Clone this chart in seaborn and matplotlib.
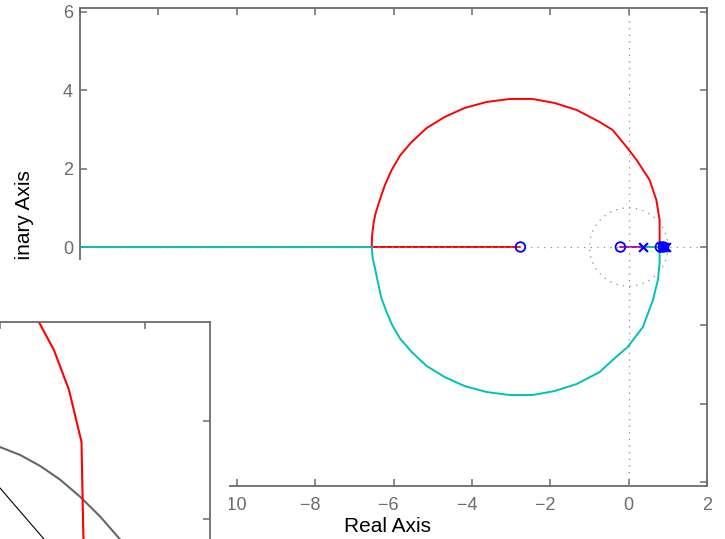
import numpy as np
import pandas as pd
import seaborn as sns
import matplotlib
matplotlib.use("Agg")
import matplotlib.pyplot as plt
from matplotlib.patches import Rectangle
from matplotlib.ticker import FuncFormatter

# ---- root locus: complex branches (real part, imaginary part) ----
upper_re = [-6.556, -6.545, -6.510, -6.460, -6.350, -6.220, -6.050, -5.830, -5.536,
            -5.153, -4.694, -4.184, -3.622, -3.036, -2.449, -1.888, -1.327, -0.740,
            -0.408, -0.051, 0.204, 0.536, 0.707, 0.791, 0.791, 0.791]
upper_im = [0.000, 0.300, 0.600, 0.850, 1.200, 1.580, 1.960, 2.340, 2.681,
            3.038, 3.319, 3.549, 3.702, 3.778, 3.778, 3.676, 3.498, 3.191,
            2.987, 2.553, 2.221, 1.710, 1.200, 0.689, 0.102, 0.000]

lower_re = [-6.556, -6.530, -6.480, -6.400, -6.310, -6.180, -6.030, -5.830, -5.536,
            -5.153, -4.694, -4.184, -3.622, -3.036, -2.449, -1.888, -1.327, -0.740,
            -0.408, -0.026, 0.365, 0.620, 0.747, 0.791, 0.791]
lower_im = [0.000, -0.300, -0.500, -0.890, -1.300, -1.650, -2.000, -2.340, -2.681,
            -3.038, -3.319, -3.549, -3.702, -3.778, -3.778, -3.676, -3.498, -3.191,
            -2.885, -2.553, -2.042, -1.353, -0.842, -0.408, 0.000]

# ---- root locus: real-axis segments ----
far_left_re = [-14.0, -6.556]      # toward -inf
left_seg_re = [-6.556, -2.76]      # break-in point to zero
inner_seg_re = [0.365, -0.21]      # pole to zero near origin
mid_seg_re = [0.365, 0.791]        # pole to breakaway
right_seg_re = [0.86, 0.791]       # pole to breakaway
short_seg_re = [0.80, 0.84]        # pole/zero pair in the cluster

# ---- poles and zeros ----
pole_re = [0.365, 0.86, 0.91, 0.95]
zero_re = [-2.76, -0.21, 0.81, 0.89]

# ---- detail view (zoomed neighbourhood of the unit-circle crossing) ----
det_red_re = [0.7086, 0.7134, 0.7186, 0.7238, 0.7281, 0.7287, 0.7293]
det_red_im = [0.7143, 0.7005, 0.6862, 0.6658, 0.6393, 0.5939, 0.5689]
det_arc_re = [0.6931, 0.7000, 0.7069, 0.7138, 0.7207, 0.7276, 0.7345, 0.7414, 0.7483]
det_arc_im = [0.6392, 0.6367, 0.6327, 0.6271, 0.6201, 0.6114, 0.6013, 0.5896, 0.5764]
det_ray_re = [0.6931, 0.7000, 0.7149, 0.7207]
det_ray_im = [0.6276, 0.6158, 0.5902, 0.5801]

x_ticks = [-14, -12, -10, -8, -6, -4, -2, 0, 2]
y_ticks = [-6, -4, -2, 0, 2, 4, 6]

RED = (1, 0, 0)
CYAN = (0, 0.75, 0.75)
MAGENTA = (0.75, 0, 0.75)
GREEN = (0, 0.5, 0)
BLUE = (0, 0, 1)
FRAME = "#6b6b6b"

sns.set_theme(style="ticks")
plt.rcParams["font.family"] = ["Liberation Sans", "DejaVu Sans"]

W, H = 725, 539
fig = plt.figure(figsize=(W / 100, H / 100), dpi=100)
fig.patch.set_facecolor("white")


def fx(px):
    return px / W


def fy(py):
    return 1 - py / H


def tick_text(v, pos):
    # negative labels: the digits sit on the tick, the minus hangs to the left
    n = int(round(v))
    if n < 0:
        return "\u2212" + str(-n) + "\u2007"
    return str(n)


ax = fig.add_axes([fx(80), fy(486), fx(707) - fx(80), fy(8) - fy(486)])
ax.set_facecolor("white")


def seg(axis, xs, ys, color, lw=1.4, z=2):
    sns.lineplot(x=xs, y=ys, sort=False, estimator=None, color=color,
                 linewidth=lw, ax=axis, zorder=z, legend=False)


# locus branches
seg(ax, far_left_re, [0, 0], CYAN)
seg(ax, left_seg_re, [0, 0], RED)
seg(ax, upper_re, upper_im, RED)
seg(ax, lower_re, lower_im, CYAN)
seg(ax, mid_seg_re, [0, 0], CYAN)
seg(ax, right_seg_re, [0, 0], RED)
seg(ax, inner_seg_re, [0, 0], MAGENTA)
seg(ax, short_seg_re, [0, 0], GREEN)

# z-plane guides: unit circle and axes, dotted grey
grid_kw = dict(color="#8c8c8c", linewidth=0.9, dashes=(1, 4.3), zorder=3)
theta = np.linspace(0, 2 * np.pi, 200)
ax.plot(np.cos(theta), np.sin(theta), **grid_kw)
ax.plot([-14, 2], [0, 0], **grid_kw)
ax.plot([0, 0], [-6.1, 6.1], **grid_kw)

# poles and zeros
ax.scatter(zero_re, [0] * len(zero_re), marker="o", s=48, facecolors="none",
           edgecolors=BLUE, linewidths=1.3, zorder=5)
ax.scatter(pole_re, [0] * len(pole_re), marker="x", s=40, color=BLUE,
           linewidths=1.6, zorder=5)

ax.set_xticks(x_ticks)
ax.set_yticks(y_ticks)
ax.set_xlim(-14, 2)
ax.set_ylim(-6.1, 6.1)
ax.xaxis.set_major_formatter(FuncFormatter(tick_text))
ax.tick_params(direction="in", length=5, width=1.1, color=FRAME, labelcolor=FRAME,
               labelsize=13, top=True, right=True)
ax.tick_params(axis="x", pad=8)
ax.tick_params(axis="y", pad=5)
for sp in ax.spines.values():
    sp.set_color(FRAME)
    sp.set_linewidth(1.3)
    sp.set_visible(True)

ax.set_xlabel("Real Axis", fontsize=15, color="black")
ax.xaxis.set_label_coords((387 - 80) / 627, (486 - 517) / 478)
ax.set_ylabel("Imaginary Axis", fontsize=15, color="black", va="center")
ax.yaxis.set_label_coords((24 - 80) / 627, (486 - 238) / 478)

# blank panel behind the detail view
fig.add_artist(Rectangle((0, 0), fx(229), fy(260), transform=fig.transFigure,
                         facecolor="white", edgecolor="none", zorder=1))

# detail view
axd = fig.add_axes([fx(-60), fy(580), fx(210) - fx(-60), fy(322) - fy(580)])
axd.set_zorder(3)
axd.set_facecolor("white")
seg(axd, det_arc_re, det_arc_im, "#666666", lw=1.5)
seg(axd, det_ray_re, det_ray_im, "black", lw=0.8)
seg(axd, det_red_re, det_red_im, RED, lw=1.5)
axd.set_xticks([0.70, 0.75])
axd.set_yticks([0.60, 0.65])
axd.set_xlim(0.67931, 0.77241)
axd.set_ylim(0.56888, 0.70051)
axd.tick_params(direction="in", length=5, width=1.1, color=FRAME,
                top=True, right=True, labelbottom=False, labelleft=False)
for sp in axd.spines.values():
    sp.set_color(FRAME)
    sp.set_linewidth(1.3)
axd.set_xlabel("")
axd.set_ylabel("")

fig.savefig("out.png", dpi=100, facecolor="white")
